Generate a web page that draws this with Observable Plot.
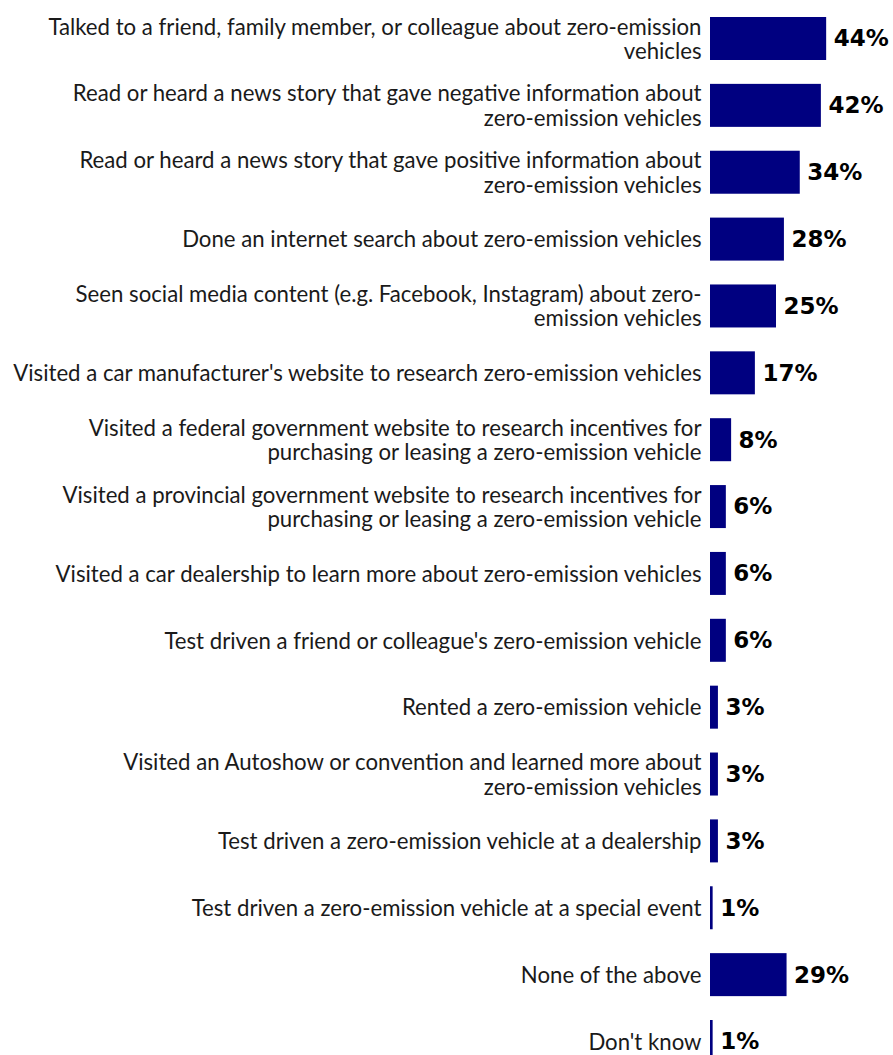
<!DOCTYPE html>
<html>
<head>
<meta charset="utf-8">
<script src="https://cdn.jsdelivr.net/npm/d3@7"></script>
<script src="https://cdn.jsdelivr.net/npm/@observablehq/plot@0.6"></script>
<style>
  html, body { margin: 0; padding: 0; background: #fff; overflow: hidden; }
  #chart svg { display: block; }
</style>
</head>
<body>
<div id="chart"></div>
<script>
const categories = [
  "Talked to a friend, family member, or colleague about zero-emission\nvehicles",
  "Read or heard a news story that gave negative information about\nzero-emission vehicles",
  "Read or heard a news story that gave positive information about\nzero-emission vehicles",
  "Done an internet search about zero-emission vehicles",
  "Seen social media content (e.g. Facebook, Instagram) about zero-\nemission vehicles",
  "Visited a car manufacturer's website to research zero-emission vehicles",
  "Visited a federal government website to research incentives for\npurchasing or leasing a zero-emission vehicle",
  "Visited a provincial government website to research incentives for\npurchasing or leasing a zero-emission vehicle",
  "Visited a car dealership to learn more about zero-emission vehicles",
  "Test driven a friend or colleague's zero-emission vehicle",
  "Rented a zero-emission vehicle",
  "Visited an Autoshow or convention and learned more about\nzero-emission vehicles",
  "Test driven a zero-emission vehicle at a dealership",
  "Test driven a zero-emission vehicle at a special event",
  "None of the above",
  "Don't know"
];
const values = [44, 42, 34, 28, 25, 17, 8, 6, 6, 6, 3, 3, 3, 1, 29, 1];

const data = categories.map((c, i) => ({category: c, value: values[i]}));

const chart = Plot.plot({
  width: 893,
  height: 1063,
  marginLeft: 710,
  marginRight: 51,
  marginTop: 17,
  marginBottom: 0,
  style: {background: "#fff"},
  x: {domain: [0, 50], axis: null},
  y: {domain: categories, axis: null, paddingInner: 0.357, paddingOuter: 0, round: false},
  marks: [
    Plot.barX(data, {x: "value", y: "category", fill: "#000080"}),
    Plot.text(data, {
      x: 0, y: "category", text: "category",
      textAnchor: "end", dx: -9, lineHeight: 1.1,
      fontFamily: "Lato", fontSize: 22.2, fill: "#1a1a1a"
    }),
    Plot.text(data, {
      x: "value", y: "category", text: d => d.value + "%",
      textAnchor: "start", dx: 7,
      fontFamily: "DejaVu Sans", fontWeight: "bold", fontSize: 23, fill: "#000"
    })
  ]
});
document.getElementById("chart").appendChild(chart);
</script>
</body>
</html>
